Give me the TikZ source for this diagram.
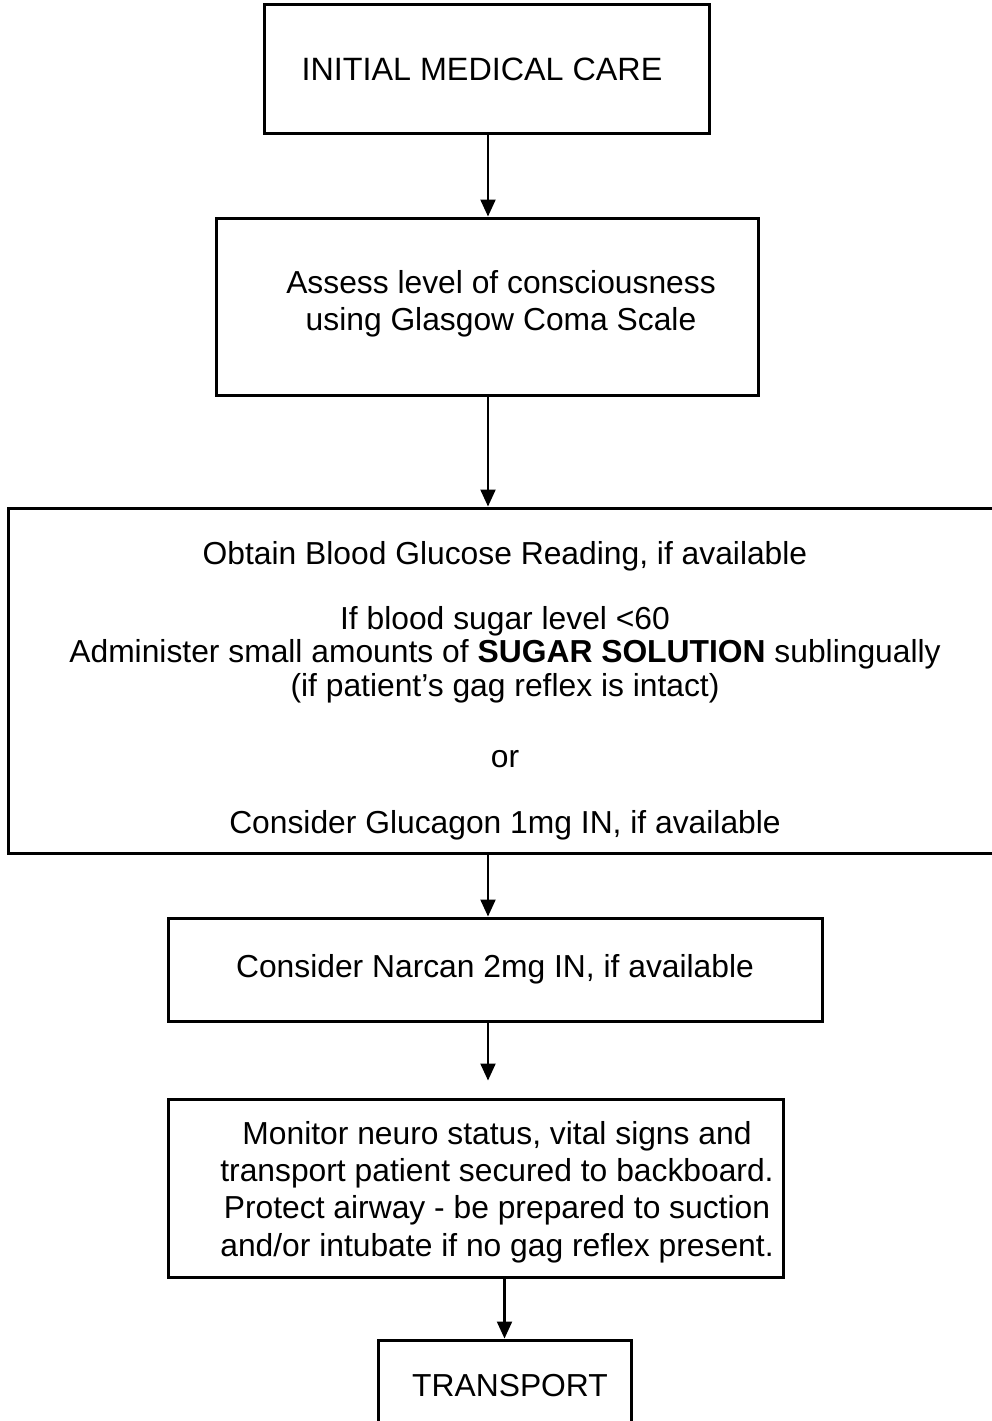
\documentclass[tikz,border=0pt]{standalone}
\usepackage{fontspec}
\setmainfont{Liberation Sans}
\usetikzlibrary{arrows.meta}
\begin{document}
\begin{tikzpicture}[x=1pt,y=-1pt,
  box/.style={draw=black,line width=3pt,rectangle,inner sep=0pt},
  txt/.style={align=center,inner sep=0pt,font=\fontsize{31.8}{37.3}\selectfont},
  flow/.style={draw=black,line width=2.2pt,-{Triangle[length=17pt,width=15pt]}}]
\useasboundingbox (0,0) rectangle (991,1421);

% boxes of the protocol, top to bottom
\node[box,minimum width=445pt,minimum height=128pt] (b1) at (486.5,69) {};
\node[box,minimum width=542pt,minimum height=177pt] (b2) at (487,306.5) {};
\node[box,minimum width=994pt,minimum height=345pt] (b3) at (505,680.5) {};
\node[box,minimum width=654pt,minimum height=103pt] (b4) at (495,969.5) {};
\node[box,minimum width=615pt,minimum height=178pt] (b5) at (475.5,1188) {};
\node[box,minimum width=253pt,minimum height=120pt] (b6) at (504.5,1400) {};

% box texts
\node[txt,font=\fontsize{32.3}{37.3}\selectfont] (t1) at (482,69) {INITIAL MEDICAL CARE};
\node[txt] (t2) at (501,304) {Assess level of consciousness\\using Glasgow Coma Scale};
\node[txt,font=\fontsize{31.8}{33.5}\selectfont] (t3) at (505,691)
  {Obtain Blood Glucose Reading, if available\\[31pt]
   If blood sugar level <60\\
   Administer small amounts of \textbf{SUGAR SOLUTION} sublingually\\
   (if patient’s gag reflex is intact)\\[38pt]
   or\\[32pt]
   Consider Glucagon 1mg IN, if available};
\node[txt] (t4) at (b4) {Consider Narcan 2mg IN, if available};
\node[txt] (t5) at (497,1192)
  {Monitor neuro status, vital signs and\\
   transport patient secured to backboard.\\
   Protect airway - be prepared to suction\\
   and/or intubate if no gag reflex present.};
\node[txt] (t6) at (510,1386) {TRANSPORT};

% connectors
\draw[flow] ([xshift=1.5pt]b1.south) -- ([xshift=1.5pt]b1.south |- b2.north);
\draw[flow] ([xshift=1pt]b2.south) -- ([xshift=1pt]b2.south |- b3.north);
\draw[flow] ([xshift=-7pt]b4.north |- b3.south) -- ([xshift=-7pt]b4.north);
\draw[flow] ([xshift=-7pt]b4.south) -- ([xshift=-7pt,yshift=17pt]b4.south |- b5.north);
\draw[flow] (b5.south -| b6.north) -- (b6.north);
\end{tikzpicture}
\end{document}
